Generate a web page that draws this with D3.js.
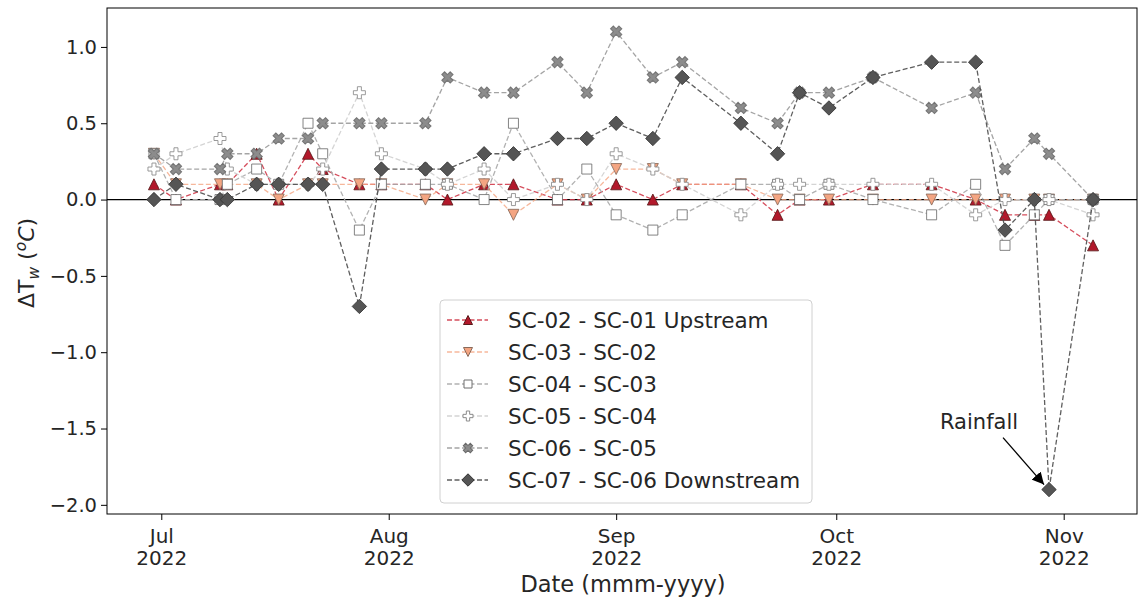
<!DOCTYPE html>
<html>
<head>
<meta charset="utf-8">
<script src="https://cdn.jsdelivr.net/npm/d3@7"></script>
<style>
  body { margin: 0; background: #fff; }
  text { font-family: "DejaVu Sans", sans-serif; fill: #262626; }
</style>
</head>
<body>
<svg id="chart" width="1138" height="603"></svg>
<script>
// Sampling dates shared by all station pairs
const dates = [
  "2022-06-30", "2022-07-03", "2022-07-09", "2022-07-10", "2022-07-14", "2022-07-17",
  "2022-07-21", "2022-07-23", "2022-07-28", "2022-07-31", "2022-08-06", "2022-08-09",
  "2022-08-14", "2022-08-18", "2022-08-24", "2022-08-28", "2022-09-01", "2022-09-06",
  "2022-09-10", "2022-09-18", "2022-09-23", "2022-09-26", "2022-09-30", "2022-10-06",
  "2022-10-14", "2022-10-20", "2022-10-24", "2022-10-28", "2022-10-30", "2022-11-05"
];

// Water temperature differences between consecutive stations (°C)
const sc02_sc01 = [0.1, 0.0, 0.1, 0.1, 0.3, 0.0, 0.3, 0.2, 0.1, 0.1, 0.1, 0.0, 0.1, 0.1, 0.0, 0.0, 0.1, 0.0, 0.1, 0.1, -0.1, 0.0, 0.0, 0.1, 0.1, 0.0, -0.1, -0.1, -0.1, -0.3];
const sc03_sc02 = [0.3, 0.1, 0.1, 0.1, 0.1, 0.0, 0.1, 0.1, 0.1, 0.1, 0.0, 0.1, 0.1, -0.1, 0.1, 0.0, 0.2, 0.2, 0.1, 0.1, 0.0, 0.0, 0.0, 0.0, 0.0, 0.0, 0.0, 0.0, 0.0, 0.0];
const sc04_sc03 = [0.3, 0.0, 0.0, 0.1, 0.2, 0.1, 0.5, 0.3, -0.2, 0.1, 0.1, 0.1, 0.0, 0.5, 0.0, 0.2, -0.1, -0.2, -0.1, 0.1, 0.1, 0.0, 0.1, 0.0, -0.1, 0.1, -0.3, -0.1, 0.0, 0.0];
const sc05_sc04 = [0.2, 0.3, 0.4, 0.2, 0.1, 0.1, 0.1, 0.2, 0.7, 0.3, 0.2, 0.1, 0.2, 0.0, 0.1, 0.0, 0.3, 0.2, 0.1, -0.1, 0.1, 0.1, 0.1, 0.1, 0.1, -0.1, 0.0, 0.0, 0.0, -0.1];
const sc06_sc05 = [0.3, 0.2, 0.2, 0.3, 0.3, 0.4, 0.4, 0.5, 0.5, 0.5, 0.5, 0.8, 0.7, 0.7, 0.9, 0.7, 1.1, 0.8, 0.9, 0.6, 0.5, 0.7, 0.7, 0.8, 0.6, 0.7, 0.2, 0.4, 0.3, 0.0];
const sc07_sc06 = [0.0, 0.1, 0.0, 0.0, 0.1, 0.1, 0.1, 0.1, -0.7, 0.2, 0.2, 0.2, 0.3, 0.3, 0.4, 0.4, 0.5, 0.4, 0.8, 0.5, 0.3, 0.7, 0.6, 0.8, 0.9, 0.9, -0.2, 0.0, -1.9, 0.0];

const seriesNames = [
  "SC-02 - SC-01 Upstream", "SC-03 - SC-02", "SC-04 - SC-03",
  "SC-05 - SC-04", "SC-06 - SC-05", "SC-07 - SC-06 Downstream"
];
const yTicks = [1.0, 0.5, 0.0, -0.5, -1.0, -1.5, -2.0];
const xTicks = ["2022-07-01", "2022-08-01", "2022-09-01", "2022-10-01", "2022-11-01"];
const rainfallDate = "2022-10-30";
const rainfallValue = -1.9;

// Marker outlines, centred on the origin
const markerPaths = {
  triUp: r => `M0,${-r}L${r},${r}L${-r},${r}Z`,
  triDown: r => `M0,${r}L${r},${-r}L${-r},${-r}Z`,
  square: r => `M${-r},${-r}H${r}V${r}H${-r}Z`,
  plus: r => { const a = r / 3; return `M${-a},${-r}H${a}V${-a}H${r}V${a}H${a}V${r}H${-a}V${a}H${-r}V${-a}H${-a}Z`; },
  diamond: r => `M0,${-r}L${r},0L0,${r}L${-r},0Z`
};

const styles = [
  { values: sc02_sc01, marker: "triUp",  r: 5.5, fill: "#b2182b", edge: "#5a1a1a", line: "#d03a4a", lineOpacity: 0.9 },
  { values: sc03_sc02, marker: "triDown", r: 5.5, fill: "#f4a582", edge: "#8a6a5a", line: "#f4a582", lineOpacity: 0.8 },
  { values: sc04_sc03, marker: "square", r: 5,   fill: "#ffffff", edge: "#6e6e6e", line: "#a8a8a8", lineOpacity: 0.9 },
  { values: sc05_sc04, marker: "plus",   r: 6,   fill: "#ffffff", edge: "#8a8a8a", line: "#cfcfcf", lineOpacity: 0.9 },
  { values: sc06_sc05, marker: "x",      r: 6,   fill: "#8c8c8c", edge: "#6a6a6a", line: "#9a9a9a", lineOpacity: 0.9 },
  { values: sc07_sc06, marker: "diamond", r: 7.2, fill: "#555555", edge: "#333333", line: "#4d4d4d", lineOpacity: 0.9 }
];

const parse = d3.timeParse("%Y-%m-%d");
const dateObjs = dates.map(parse);

const svg = d3.select("#chart");
const plot = { left: 107, top: 8, right: 1137, bottom: 514 };

// Time axis with 5% padding either side of the sampled period
const t0 = dateObjs[0], t1 = dateObjs[dateObjs.length - 1];
const pad = (t1 - t0) * 0.05;
const x = d3.scaleTime()
  .domain([new Date(+t0 - pad), new Date(+t1 + pad)])
  .range([plot.left, plot.right + 3]);
const y = d3.scaleLinear().domain([-2.06, 1.255]).range([plot.bottom, plot.top]);

// Zero reference line
svg.append("line")
  .attr("x1", plot.left).attr("x2", plot.right)
  .attr("y1", y(0)).attr("y2", y(0))
  .attr("stroke", "#000").attr("stroke-width", 1.2);

const markerD = (s, r) => s.marker === "x" ? markerPaths.plus(r) : markerPaths[s.marker](r);

// Series: dashed connecting lines with markers on top
const lineGen = d3.line().x(d => x(d.date)).y(d => y(d.value));
const seriesLayer = svg.append("g");
styles.forEach(s => {
  const pts = s.values.map((v, k) => ({ date: dateObjs[k], value: v })).filter(d => d.value != null);
  const g = seriesLayer.append("g");
  g.append("path")
    .attr("d", lineGen(pts))
    .attr("fill", "none")
    .attr("stroke", s.line)
    .attr("stroke-opacity", s.lineOpacity)
    .attr("stroke-width", 1.3)
    .attr("stroke-dasharray", "5,2.5");
  g.selectAll(".m").data(pts).join("path")
    .attr("class", "m")
    .attr("d", markerD(s, s.r))
    .attr("transform", d => `translate(${x(d.date)},${y(d.value)})` + (s.marker === "x" ? " rotate(45)" : ""))
    .attr("fill", s.fill)
    .attr("stroke", s.edge)
    .attr("stroke-width", 1)
    .attr("stroke-opacity", 0.85);
});

// Frame
svg.append("rect")
  .attr("x", plot.left).attr("y", plot.top)
  .attr("width", plot.right - plot.left).attr("height", plot.bottom - plot.top)
  .attr("fill", "none").attr("stroke", "#000").attr("stroke-width", 1);

// Y axis
const yAxis = svg.append("g").attr("transform", `translate(${plot.left},0)`)
  .call(d3.axisLeft(y).tickValues(yTicks).tickSize(6).tickPadding(4)
    .tickFormat(d => d3.format(".1f")(d).replace("-", "\u2212")));
yAxis.select(".domain").remove();
yAxis.selectAll("text").style("font-size", "19.5px").style("font-family", "DejaVu Sans").attr("fill", "#262626");
yAxis.selectAll("line").attr("stroke", "#000");

// X axis with two-line month / year labels
const xAxis = svg.append("g").attr("transform", `translate(0,${plot.bottom})`)
  .call(d3.axisBottom(x).tickValues(xTicks.map(parse)).tickSize(6).tickFormat(""));
xAxis.select(".domain").remove();
xAxis.selectAll("line").attr("stroke", "#000");
const fmtMonth = d3.timeFormat("%b"), fmtYear = d3.timeFormat("%Y");
xAxis.selectAll(".tick").each(function(d) {
  const t = d3.select(this).append("text").attr("text-anchor", "middle")
    .style("font-size", "20px").attr("fill", "#262626");
  t.append("tspan").attr("x", 0).attr("y", 29).text(fmtMonth(d));
  t.append("tspan").attr("x", 0).attr("y", 51).text(fmtYear(d));
});

// Axis titles
svg.append("text")
  .attr("x", 623).attr("y", 592)
  .attr("text-anchor", "middle").style("font-size", "22.5px")
  .text("Date (mmm-yyyy)");

const yl = svg.append("text")
  .attr("transform", "translate(34,263) rotate(-90)")
  .attr("text-anchor", "middle").style("font-size", "22px");
yl.append("tspan").text("\u0394T");
yl.append("tspan").attr("dy", 5).style("font-size", "15.5px").style("font-style", "italic").text("w");
yl.append("tspan").attr("dy", -5).text(" (");
yl.append("tspan").attr("dy", -8).style("font-size", "15.5px").style("font-style", "italic").text("o");
yl.append("tspan").attr("dy", 8).style("font-style", "italic").text("C");
yl.append("tspan").text(")");

// Rainfall annotation
const rx = x(parse(rainfallDate)), ry = y(rainfallValue);
svg.append("defs").append("marker")
  .attr("id", "arrowhead").attr("viewBox", "0 0 10 10").attr("refX", 10).attr("refY", 5)
  .attr("markerWidth", 12).attr("markerHeight", 12).attr("markerUnits", "userSpaceOnUse")
  .attr("orient", "auto")
  .append("path").attr("d", "M0,0L10,5L0,10Z").attr("fill", "#000");
svg.append("line")
  .attr("x1", rx - 46).attr("y1", ry - 52)
  .attr("x2", rx - 5).attr("y2", ry - 5)
  .attr("stroke", "#000").attr("stroke-width", 1.3)
  .attr("marker-end", "url(#arrowhead)");
svg.append("text")
  .attr("x", rx - 70).attr("y", ry - 61)
  .attr("text-anchor", "middle").style("font-size", "21px")
  .text("Rainfall");

// Legend
const legend = svg.append("g").attr("transform", "translate(440,300)");
legend.append("rect")
  .attr("width", 372).attr("height", 203).attr("rx", 4)
  .attr("fill", "#fff").attr("fill-opacity", 0.8)
  .attr("stroke", "#d0d0d0").attr("stroke-width", 1);
seriesNames.forEach((name, i) => {
  const s = styles[i];
  const row = legend.append("g").attr("transform", `translate(0,${20 + i * 32})`);
  row.append("line").attr("x1", 7).attr("x2", 48).attr("y1", 0).attr("y2", 0)
    .attr("stroke", s.line).attr("stroke-opacity", s.lineOpacity)
    .attr("stroke-width", 1.3).attr("stroke-dasharray", "5,2.5");
  row.append("path")
    .attr("d", markerD(s, s.r - 1))
    .attr("transform", "translate(28,0)" + (s.marker === "x" ? " rotate(45)" : ""))
    .attr("fill", s.fill).attr("stroke", s.edge).attr("stroke-width", 1);
  row.append("text").attr("x", 68).attr("y", 7.5)
    .style("font-size", "21.5px").text(name);
});
</script>
</body>
</html>
